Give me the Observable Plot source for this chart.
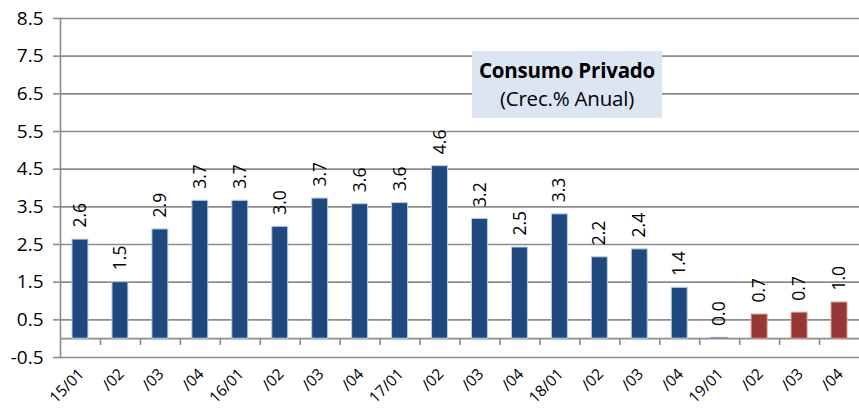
<!DOCTYPE html>
<html>
<head>
<meta charset="utf-8">
<script src="https://cdn.jsdelivr.net/npm/d3@7"></script>
<script src="https://cdn.jsdelivr.net/npm/@observablehq/plot@0.6"></script>
<style>
  html, body { margin: 0; padding: 0; background: #fff; }
  #wrap { position: relative; width: 859px; height: 412px; font-family: "Open Sans", sans-serif; }
  #title {
    position: absolute; left: 472px; top: 51px; width: 190px; height: 67px;
    background: #dce6f2; text-align: center; font-size: 20.5px; line-height: 28px;
    padding-top: 5px; box-sizing: border-box; color: #000; letter-spacing: -0.2px; white-space: nowrap;
  }
  #title b { font-weight: 700; }
</style>
</head>
<body>
<div id="wrap">
  <div id="chart"></div>
  <div id="title"><b>Consumo Privado</b><br>(Crec.% Anual)</div>
</div>
<script>
const categories = ["15/01","/02","/03","/04","16/01","/02 ","/03 ","/04 ","17/01","/02  ","/03  ","/04  ","18/01","/02   ","/03   ","/04   ","19/01","/02    ","/03    ","/04    "];
const values = [2.63, 1.5, 2.9, 3.66, 3.66, 2.97, 3.72, 3.57, 3.6, 4.58, 3.18, 2.42, 3.3, 2.16, 2.37, 1.35, 0.02, 0.64, 0.69, 0.96];
const labels = ["2.6","1.5","2.9","3.7","3.7","3.0","3.7","3.6","3.6","4.6","3.2","2.5","3.3","2.2","2.4","1.4","0.0","0.7","0.7","1.0"];
const kinds = ["obs","obs","obs","obs","obs","obs","obs","obs","obs","obs","obs","obs","obs","obs","obs","obs","zero","fc","fc","fc"];
const yTicks = [-0.5, 0.5, 1.5, 2.5, 3.5, 4.5, 5.5, 6.5, 7.5, 8.5];

const data = categories.map((c, i) => ({cat: c, value: values[i], label: labels[i], kind: kinds[i]}));
const fillFor = {obs: "#1f497d", zero: "#8496b0", fc: "#953735"};
const strokeFor = {obs: "#b9cde5", zero: "#8496b0", fc: "#d99694"};

const chart = Plot.plot({
  width: 859,
  height: 412,
  marginLeft: 60,
  marginRight: 0,
  marginTop: 18,
  marginBottom: 55,
  style: {fontFamily: "Open Sans, sans-serif", fontSize: "17px", color: "#000", background: "#fff"},
  x: {domain: categories, padding: 0, round: false},
  y: {domain: [-0.5, 8.5]},
  marks: [
    Plot.ruleY(yTicks, {stroke: "#8c8c8c", strokeWidth: 1.6}),
    Plot.ruleY([0], {stroke: "#8c8c8c", strokeWidth: 1.6}),
    Plot.ruleX(categories.slice(0, -1), {x: d => d, y1: 0, y2: -0.18, dx: 20, stroke: "#8c8c8c", strokeWidth: 1.6}),
    Plot.axisY({ticks: yTicks, tickFormat: d => d.toFixed(1), tickSize: 7, tickPadding: 10, stroke: "#8c8c8c", strokeWidth: 1.6, fontSize: 19, label: null}),
    Plot.frame({anchor: "left", stroke: "#8c8c8c", strokeWidth: 1.6}),
    Plot.barY(data, {x: "cat", y: "value", insetLeft: 12, insetRight: 12, fill: d => fillFor[d.kind], stroke: d => strokeFor[d.kind], strokeWidth: 1}),
    Plot.text(data, {x: "cat", y: "value", text: "label", rotate: -90, textAnchor: "start", dy: -12, fontSize: 17.5, fill: "#000"}),
    Plot.axisX({tickSize: 0, tickRotate: -45, tickPadding: 14, fontSize: 15.5, label: null, tickFormat: d => d.trim(), dx: 1})
  ]
});
document.getElementById("chart").appendChild(chart);
</script>
</body>
</html>
